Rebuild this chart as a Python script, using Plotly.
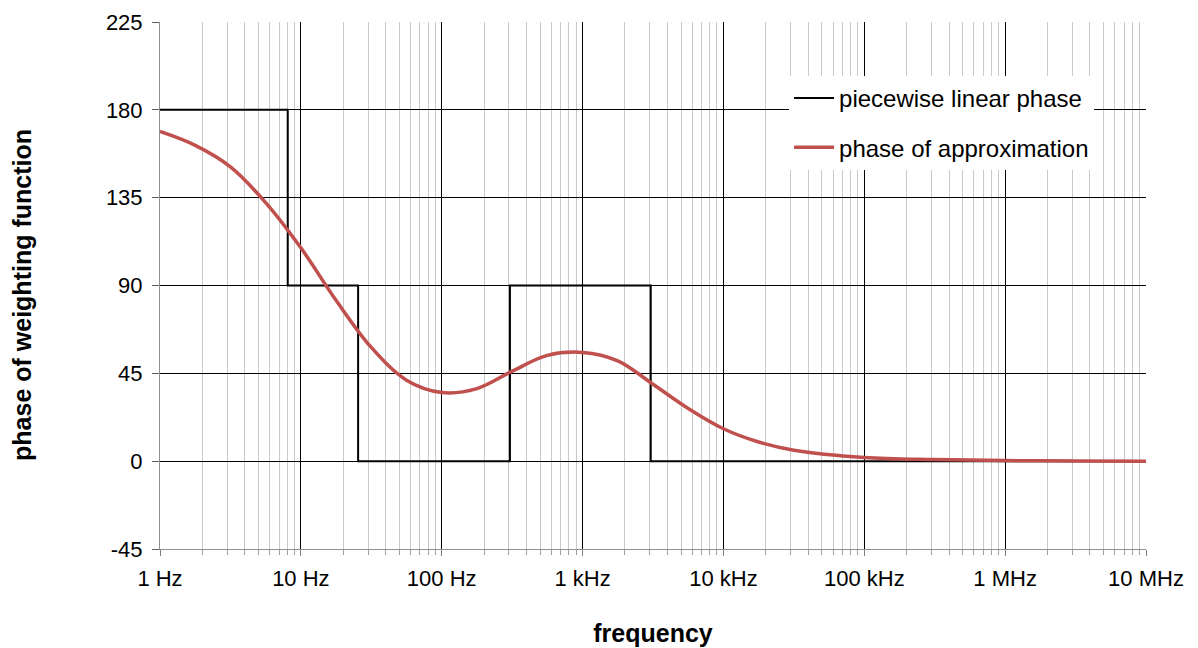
import plotly.graph_objects as go

# piecewise linear phase (step)
step_freq = [1, 8.07, 25.5, 305, 3046, 1e7]
step_phase = [180, 90, 0, 90, 0, 0]

# phase of approximation (read at quarter-decade spacing)
approx_freq = [1, 1.778, 3.162, 5.623, 10, 17.78, 31.62, 56.23, 100, 177.8, 316.2, 562.3,
               1000, 1778, 3162, 5623, 10000, 17780, 31620, 100000, 316200, 1e6, 3.162e6, 1e7]
approx_phase = [168.9, 161.8, 150.8, 132.5, 109.3, 82.4, 58.3, 41.5, 35.2, 37.2, 46.1, 54.2,
                55.7, 51.4, 39.4, 27.0, 16.6, 9.8, 5.6, 1.9, 0.8, 0.3, 0.1, 0.0]

tick_vals = [1, 10, 100, 1e3, 1e4, 1e5, 1e6, 1e7]
tick_text = ["1 Hz", "10 Hz", "100 Hz", "1 kHz", "10 kHz", "100 kHz", "1 MHz", "10 MHz"]
y_ticks = [-45, 0, 45, 90, 135, 180, 225]
y_text = ["-45", "0", "45", "90", "135", "180", "225"]

fig = go.Figure()
fig.add_trace(go.Scatter(x=step_freq, y=step_phase, mode="lines", line_shape="hv",
                         line=dict(color="black", width=2), name="piecewise linear phase",
                         legendgroup="a"))
fig.add_trace(go.Scatter(x=approx_freq, y=approx_phase, mode="lines", line_shape="spline",
                         line=dict(color="#C0504D", width=3.5, smoothing=1.0),
                         name="phase of approximation", legendgroup="b"))

font = "Liberation Sans, Arial, sans-serif"
fig.update_layout(
    width=1190, height=640,
    margin=dict(l=152, r=52, t=14, b=99, autoexpand=False),
    paper_bgcolor="white", plot_bgcolor="white",
    font=dict(family=font, size=22, color="black"),
    showlegend=True,
    legend=dict(x=0.638, y=0.8975, xanchor="left", yanchor="top",
                bgcolor="white", borderwidth=0, font=dict(size=24, color="black"),
                traceorder="grouped", tracegroupgap=15, itemwidth=40),
    xaxis=dict(type="log", range=[0, 7], tickvals=tick_vals, ticktext=tick_text,
               automargin=False,
               showgrid=True, gridcolor="black", gridwidth=1,
               minor=dict(showgrid=True, gridcolor="#c8c8c8", gridwidth=1, dtick="D1",
                          ticks="outside", ticklen=5, tickcolor="#a0a0a0"),
               ticks="outside", ticklen=6, tickcolor="#808080", ticklabelstandoff=4,
               showline=True, linecolor="#909090", linewidth=1, zeroline=False,
               tickfont=dict(size=22),
               title=dict(text="<b>frequency</b>", font=dict(size=25), standoff=34)),
    yaxis=dict(range=[-45, 225], tickvals=y_ticks, ticktext=y_text, showgrid=True,
               automargin=False,
               gridcolor="black", gridwidth=1, zeroline=False, ticks="outside", ticklen=7,
               tickcolor="#606060", showline=True, linecolor="#909090", linewidth=1,
               tickfont=dict(size=22), ticklabelstandoff=5),
    annotations=[dict(text="<b>phase of weighting function</b>", textangle=-90,
                      xref="paper", yref="paper", x=-0.14, y=0.482,
                      xanchor="center", yanchor="middle", showarrow=False,
                      font=dict(size=25, color="black"))],
)

fig.write_html("out.html")
